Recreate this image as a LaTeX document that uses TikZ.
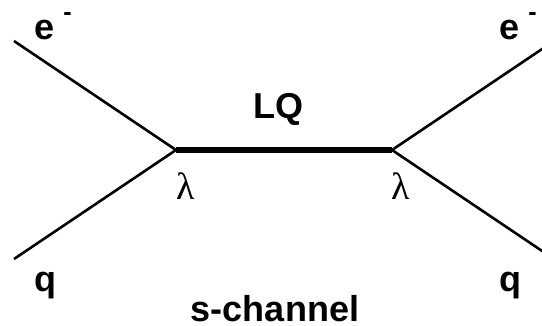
\documentclass[tikz,border=0pt]{standalone}
\usepackage{fontspec}
\setmainfont{Liberation Sans}
\newfontfamily\greekserif{Liberation Serif}
\begin{document}
\begin{tikzpicture}[x=1pt,y=-1pt,
  fermion/.style={line width=2.6pt},
  lqline/.style={line width=6pt},
  lab/.style={inner sep=0pt,anchor=base,font=\fontsize{36}{40}\selectfont\bfseries},
  supminus/.style={inner sep=0pt,anchor=base,font=\fontsize{25}{28}\selectfont\bfseries},
  coupling/.style={inner sep=0pt,anchor=base,font=\fontsize{38}{40}\selectfont\greekserif}]
\useasboundingbox (0,0) rectangle (542,326);
\clip (0,0) rectangle (542,326);
\coordinate (v1) at (176,150);
\coordinate (v2) at (392,150);
\coordinate (ein) at (14,41);
\coordinate (qin) at (14,259);
\coordinate (eout) at (554,41);
\coordinate (qout) at (554,259);
\draw[fermion] (ein) -- (v1);
\draw[fermion] (qin) -- (v1);
\draw[fermion] (v2) -- (eout);
\draw[fermion] (v2) -- (qout);
\draw[lqline] (v1) -- (v2);
\node[lab] (e1) at (45,40) {e};
\node[supminus] (m1) at (67.5,20.5) {-};
\node[lab] (e2) at (510,40) {e};
\node[supminus] (m2) at (532.5,20.5) {-};
\node[lab] (lq) at (278,118.5) {LQ};
\node[coupling] (l1) at (186,200) {λ};
\node[coupling] (l2) at (401,200) {λ};
\node[lab] (q1) at (45.5,292) {q};
\node[lab] (q2) at (510.5,292) {q};
\node[lab] (sch) at (275,321.5) {s-channel};
\end{tikzpicture}
\end{document}
